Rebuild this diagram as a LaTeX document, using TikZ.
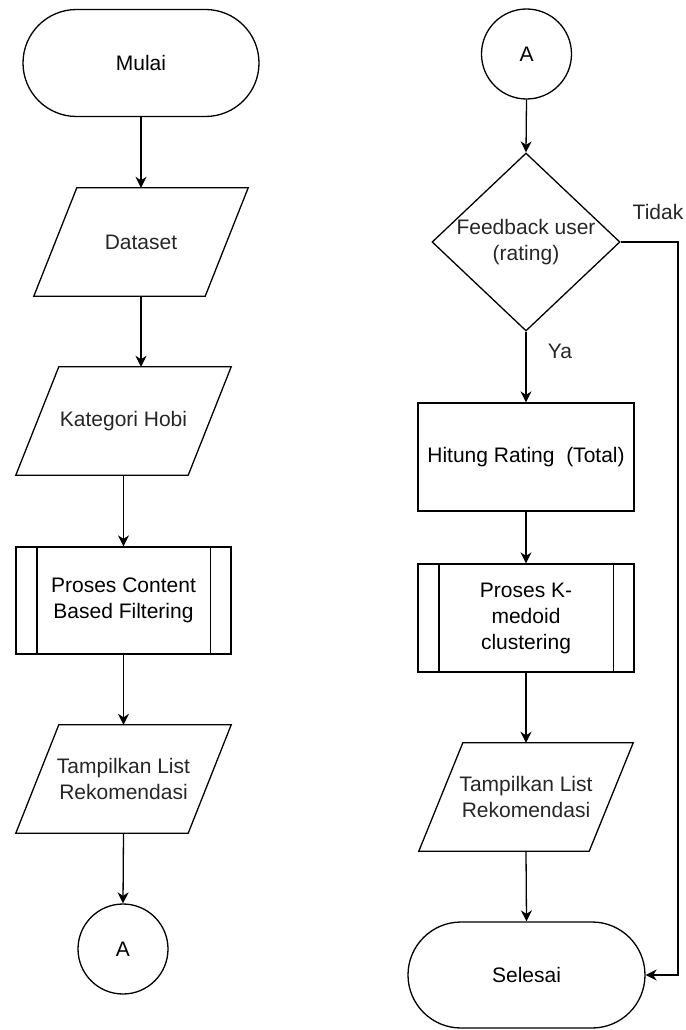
\documentclass[tikz,border=0pt]{standalone}
\usepackage{fontspec}
\setmainfont{Liberation Sans}
\usetikzlibrary{shapes.geometric,shapes.misc,arrows.meta}
\newcommand{\drawpara}[2]{%
  \draw[shapeline] ([xshift=#2pt]#1.north west) -- (#1.north east) -- ([xshift=-#2pt]#1.south east) -- (#1.south west) -- cycle;}
\newcommand{\drawsub}[1]{%
  \draw[shapeline] ([xshift=21.5pt]#1.north west) -- ([xshift=21.5pt]#1.south west);
  \draw[shapeline] ([xshift=-21.5pt]#1.north east) -- ([xshift=-21.5pt]#1.south east);}
\begin{document}
\begin{tikzpicture}[x=1pt,y=-1pt,
  base/.style={font=\fontsize{21}{26}\selectfont, text=black!85, align=center, inner sep=0pt},
  shapeline/.style={line width=1.3pt, black},
  term/.style={base, shapeline, draw, rounded rectangle, minimum width=236, minimum height=107},
  iobox/.style={base, rectangle, minimum width=214, minimum height=108},
  procbox/.style={base, shapeline, draw, rectangle, minimum width=216, minimum height=108},
  conn/.style={base, shapeline, draw, circle, minimum size=90},
  decision/.style={shapeline, draw, diamond, inner sep=0pt, minimum width=188, minimum height=178},
  lbl/.style={base},
  arr/.style={line width=1.3pt, black, -{Stealth[length=11pt,width=11pt,inset=3.5pt]}},
  flow/.style={line width=1.3pt, black}
]
\useasboundingbox (0,0) rectangle (685,1030);

% left column
\node[term] (mulai) at (141,63) {Mulai};
\node[iobox] (dataset) at (141,242) {Dataset};
\node[iobox, minimum width=215] (kategori) at (123.5,421) {Kategori Hobi};
\node[procbox, minimum width=215, minimum height=107] (cbf) at (123.5,600.5) {Proses Content\\Based Filtering};
\node[iobox, minimum width=215] (tampil1) at (123.5,779) {Tampilkan List\\Rekomendasi};
\node[conn] (a1) at (123,949) {A};

\drawpara{dataset}{43}
\drawpara{kategori}{43}
\drawsub{cbf}
\drawpara{tampil1}{43}

% right column
\node[conn] (a2) at (526.5,54) {A};
\node[decision, label={[base]center:Feedback user\\(rating)}] (fb) at (526,242) {};
\node[procbox] (hitung) at (526,457) {Hitung Rating\ \ (Total)};
\node[procbox] (kmed) at (526,618) {Proses K-\\medoid\\clustering};
\node[iobox] (tampil2) at (526,797) {Tampilkan List\\Rekomendasi};
\node[term, minimum width=237, minimum height=106] (selesai) at (526.5,975) {Selesai};

\drawsub{kmed}
\drawpara{tampil2}{44}

\node[lbl] (tidak) at (658,212) {Tidak};
\node[lbl] (ya) at (560,351) {Ya};
\coordinate (corner) at (678,242);

% connectors
\draw[arr] (mulai.south) -- (dataset.north);
\draw[arr] (dataset.south) -- (dataset.south |- kategori.north);
\draw[arr] (kategori.south) -- (cbf.north);
\draw[arr] (cbf.south) -- (tampil1.north);
\draw[arr] (tampil1.south) -- (a1.north);

\draw[arr] (a2.south) -- (fb.north);
\draw[arr] (fb.south) -- (hitung.north);
\draw[arr] (hitung.south) -- (kmed.north);
\draw[arr] (kmed.south) -- (tampil2.north);
\draw[arr] (tampil2.south) -- (selesai.north);
\draw[arr] (fb.east) -- (corner) |- (selesai.east);
\end{tikzpicture}
\end{document}
